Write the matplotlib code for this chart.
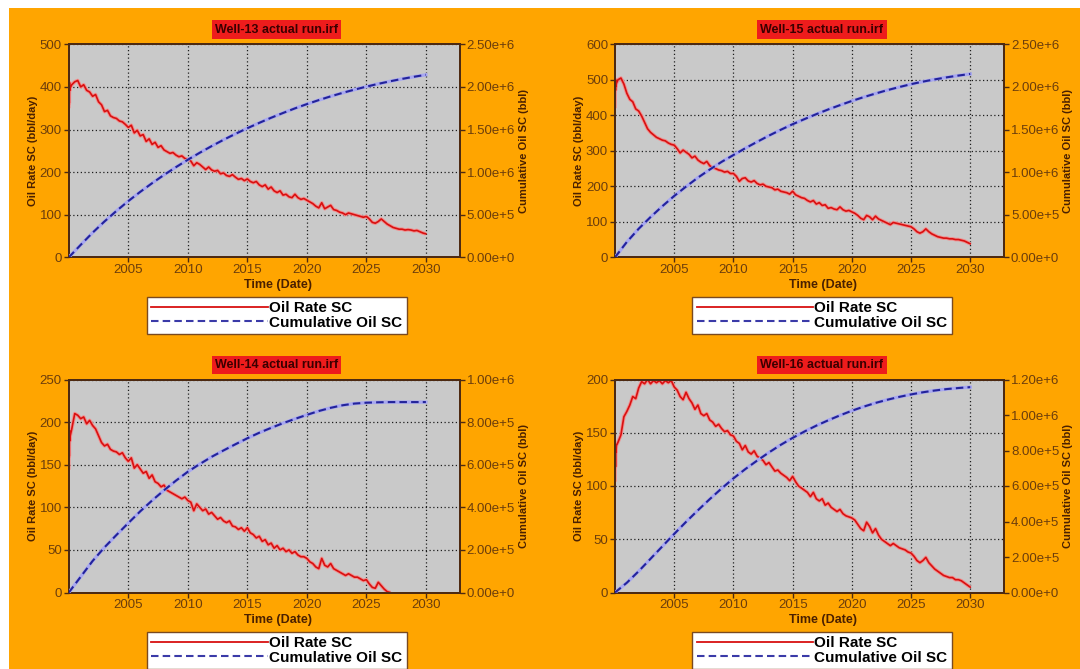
import numpy as np
import matplotlib
matplotlib.use("Agg")
import matplotlib.pyplot as plt
from matplotlib.lines import Line2D
from matplotlib.patches import Rectangle
from matplotlib.ticker import FuncFormatter, MultipleLocator

plt.rcParams['font.family'] = ['Liberation Sans', 'DejaVu Sans']

# ---------------- data ----------------
well_names = ["Well-13 actual run.irf", "Well-15 actual run.irf",
              "Well-14 actual run.irf", "Well-16 actual run.irf"]

cum_years = list(range(2000, 2031))
quarter_start = 2000.25
quarter_step = 0.25

# Well-13
w13_start_years = [2000.0, 2000.02, 2000.04, 2000.06, 2000.08, 2000.12]
w13_start_rate = [350, 405, 362, 410, 392, 398]
w13_rate = [
    405, 412, 415,
    400, 405, 392, 388, 378, 382, 365, 358, 342, 345, 332, 328,
    326, 320, 318, 312, 305, 310, 292, 298, 285, 288, 272, 278,
    265, 270, 258, 262, 252, 248, 244, 246, 240, 236, 238, 232,
    230, 226, 215, 222, 218, 212, 206, 212, 205, 202, 204, 196,
    198, 192, 190, 194, 188, 183, 185, 180, 184, 178, 175, 178,
    170, 166, 170, 160, 165, 156, 152, 156, 146, 148, 142, 140,
    148, 140, 136, 138, 134, 130, 126, 120, 116, 128, 114, 118,
    122, 112, 110, 106, 104, 100, 104, 102, 100, 98, 96, 94,
    96, 90, 82, 80, 84, 90, 84, 78, 74, 70, 68, 66,
    66, 64, 65, 64, 62, 63, 60, 57, 55]
w13_cum = [0.000, 0.146, 0.289, 0.421, 0.544, 0.660, 0.768, 0.870, 0.967, 1.058,
           1.145, 1.227, 1.305, 1.379, 1.449, 1.515, 1.578, 1.638, 1.694, 1.748,
           1.798, 1.845, 1.889, 1.930, 1.968, 2.003, 2.036, 2.066, 2.094, 2.119, 2.142]

# Well-15
w15_start_years = [2000.0, 2000.02, 2000.04, 2000.06, 2000.08, 2000.12]
w15_start_rate = [420, 495, 470, 500, 482, 490]
w15_rate = [
    500, 505, 488,
    462, 445, 438, 418, 412, 398, 380, 362, 352, 345, 338, 334,
    330, 328, 322, 318, 316, 306, 294, 302, 296, 290, 280, 285,
    274, 268, 264, 270, 258, 252, 250, 246, 244, 240, 242, 236,
    236, 228, 214, 222, 224, 215, 212, 216, 208, 204, 206, 200,
    198, 196, 190, 192, 186, 184, 182, 178, 186, 176, 172, 168,
    166, 160, 156, 160, 150, 154, 146, 148, 138, 140, 136, 134,
    142, 134, 130, 132, 128, 124, 118, 110, 106, 118, 114, 106,
    116, 108, 104, 100, 96, 92, 98, 96, 94, 92, 90, 88,
    86, 80, 72, 68, 72, 80, 72, 66, 62, 58, 56, 54,
    54, 52, 52, 50, 50, 48, 46, 42, 38]
w15_cum = [0.000, 0.180, 0.335, 0.472, 0.600, 0.720, 0.830, 0.935, 1.030, 1.120,
           1.200, 1.280, 1.355, 1.428, 1.497, 1.562, 1.622, 1.680, 1.735, 1.786,
           1.835, 1.880, 1.922, 1.962, 1.998, 2.032, 2.062, 2.088, 2.112, 2.133, 2.152]

# Well-14
w14_start_years = [2000.0, 2000.02, 2000.04, 2000.06, 2000.08, 2000.12]
w14_start_rate = [144, 188, 160, 190, 178, 184]
w14_rate = [
    192, 210, 208,
    204, 206, 198, 202, 196, 192, 184, 176, 172, 174, 168, 166,
    165, 162, 164, 158, 154, 158, 146, 150, 145, 140, 142, 134,
    138, 130, 128, 124, 126, 120, 118, 116, 114, 112, 110, 112,
    108, 106, 96, 104, 100, 96, 98, 92, 94, 90, 86, 88,
    84, 82, 84, 78, 77, 74, 76, 72, 76, 70, 68, 64,
    66, 60, 62, 56, 58, 52, 55, 50, 52, 48, 50, 46,
    48, 44, 42, 42, 40, 36, 34, 30, 28, 40, 32, 30,
    34, 28, 26, 24, 22, 20, 22, 20, 18, 18, 16, 14,
    15, 10, 6, 5, 12, 8, 4, 1, 0]
w14_cum = [0.000, 0.074, 0.148, 0.212, 0.270, 0.326, 0.381, 0.432, 0.480, 0.525,
           0.567, 0.603, 0.637, 0.667, 0.696, 0.724, 0.750, 0.773, 0.795, 0.815,
           0.834, 0.852, 0.867, 0.879, 0.887, 0.891, 0.893, 0.894, 0.894, 0.894, 0.894]

# Well-16
w16_start_years = [2000.0, 2000.02, 2000.04, 2000.06, 2000.08, 2000.12]
w16_start_rate = [104, 136, 118, 139, 132, 138]
w16_rate = [
    141, 148, 165,
    170, 176, 184, 182, 192, 198, 196, 200, 196, 199, 197, 199,
    196, 199, 197, 199, 193, 190, 184, 181, 188, 182, 178, 172,
    176, 168, 166, 168, 162, 160, 156, 158, 154, 151, 152, 148,
    147, 142, 140, 134, 138, 132, 130, 133, 128, 126, 124, 120,
    122, 118, 114, 115, 112, 110, 108, 105, 109, 104, 100, 98,
    96, 94, 90, 94, 88, 86, 88, 82, 84, 80, 78, 76,
    78, 74, 72, 71, 70, 68, 64, 60, 58, 66, 62, 56,
    60, 54, 50, 48, 46, 44, 46, 44, 42, 41, 40, 38,
    37, 34, 30, 28, 30, 33, 28, 25, 22, 20, 18, 16,
    15, 14, 14, 12, 12, 11, 9, 7, 5]
w16_cum = [0.000, 0.055, 0.120, 0.190, 0.260, 0.330, 0.398, 0.463, 0.526, 0.586,
           0.643, 0.695, 0.743, 0.789, 0.832, 0.871, 0.907, 0.940, 0.970, 0.998,
           1.024, 1.047, 1.068, 1.086, 1.102, 1.116, 1.128, 1.138, 1.146, 1.152, 1.157]

rate_ylims = [(0, 500, 100), (0, 600, 100), (0, 250, 50), (0, 200, 50)]
cum_ylims = [(0, 2.5e6, 0.5e6), (0, 2.5e6, 0.5e6), (0, 1.0e6, 2e5), (0, 1.2e6, 2e5)]
x_ticks = [2005, 2010, 2015, 2020, 2025, 2030]

wells = [
    (w13_start_years, w13_start_rate, w13_rate, w13_cum),
    (w15_start_years, w15_start_rate, w15_rate, w15_cum),
    (w14_start_years, w14_start_rate, w14_rate, w14_cum),
    (w16_start_years, w16_start_rate, w16_rate, w16_cum),
]

# ---------------- style ----------------
W, H = 1080, 669
ORANGE = '#FFA500'
GREY = '#c9c9c9'
SPINE = '#4d2a12'
TICKC = '#6b3d0c'
LABC = '#4a2000'
RED = '#d81010'
BLUE = '#23239a'

fig = plt.figure(figsize=(W / 100, H / 100), dpi=100)
fig.patch.set_facecolor('white')
fig.patches.append(Rectangle((9 / W, 0), 1 - 9 / W, 1 - 8 / H, transform=fig.transFigure,
                             facecolor=ORANGE, edgecolor='none', zorder=-10))

# axes boxes in pixels: (left, top, right, bottom)
boxes = [(68.8, 44.3, 459.8, 257.3), (615.0, 44.3, 1004.0, 257.3),
         (68.8, 379.5, 459.8, 592.5), (615.0, 379.5, 1004.0, 592.5)]


def sci_fmt(v, pos):
    m, e = f"{v:.2e}".split('e')
    ei = int(e)
    return f"{m}e{'+' if ei >= 0 else '-'}{abs(ei)}"


for i, (name, box, well, rl, cl) in enumerate(zip(well_names, boxes, wells, rate_ylims, cum_ylims)):
    l, t, r, b = box
    ax = fig.add_axes([l / W, (H - b) / H, (r - l) / W, (b - t) / H])
    ax.set_facecolor(GREY)
    ax2 = ax.twinx()

    sy, sr, rate, cum = well
    q_years = quarter_start + quarter_step * np.arange(len(rate))
    years = np.concatenate([np.array(sy), q_years])
    rates = np.concatenate([np.array(sr, float), np.array(rate, float)])

    ax.plot(years, rates, color='#f09090', lw=2.6, zorder=3, solid_capstyle='butt')
    ax.plot(years, rates, color=RED, lw=1.2, zorder=4)

    cum_v = np.array(cum) * 1e6
    ax2.plot(cum_years, cum_v, color='#a8a8f0', lw=2.4, zorder=3)
    ax2.plot(cum_years, cum_v, color=BLUE, lw=1.5, dashes=(3.6, 2.0), zorder=4)

    ax.set_xlim(2000, 2032.85)
    ax.set_ylim(rl[0], rl[1])
    ax.yaxis.set_major_locator(MultipleLocator(rl[2]))
    ax2.set_ylim(cl[0], cl[1])
    ax2.yaxis.set_major_locator(MultipleLocator(cl[2]))
    ax2.yaxis.set_major_formatter(FuncFormatter(sci_fmt))
    ax.set_xticks(x_ticks)

    ax.grid(True, color='black', linestyle=(0, (1, 2)), linewidth=0.9, alpha=0.85)
    ax.set_axisbelow(True)

    for a in (ax, ax2):
        for s in a.spines.values():
            s.set_color(SPINE)
            s.set_linewidth(1.4)
        a.tick_params(colors=SPINE, labelcolor=TICKC, labelsize=9.5, length=3.5, width=1,
                      direction='out', pad=1.5)

    ax.set_ylabel('Oil Rate SC (bbl/day)', fontsize=8, fontweight='bold', color=LABC)
    ax.yaxis.set_label_coords(-30.5 / (r - l), 0.5)
    ax2.set_ylabel('Cumulative Oil SC (bbl)', fontsize=8, fontweight='bold', color=LABC)
    ax2.yaxis.set_label_coords(1 + 59 / (r - l), 0.5)
    ax.set_xlabel('Time (Date)', fontsize=9, fontweight='bold', color=LABC)
    ax.xaxis.set_label_coords(0.535, -22 / (b - t))

    ax.text(0.532, 1 + 14.8 / (b - t), name, transform=ax.transAxes, ha='center', va='center',
            fontsize=9, fontweight='bold', color='#3a0000',
            bbox=dict(boxstyle='square,pad=0.25', facecolor='#ee1c1c', edgecolor='none'))

    handles = [Line2D([], [], color=RED, lw=1.3),
               Line2D([], [], color='#3a3aa8', lw=1.5, dashes=(3.6, 2.0))]
    leg = ax2.legend(handles, ['Oil Rate SC', 'Cumulative Oil SC'], loc='upper center',
                     bbox_to_anchor=(0.532, -39.4 / (b - t)), ncol=1, frameon=True,
                     fancybox=False, shadow=False, handlelength=7.6, handletextpad=0.1,
                     borderpad=0.3, labelspacing=0.02, borderaxespad=0,
                     prop={'family': ['Liberation Sans', 'DejaVu Sans'], 'weight': 'bold', 'size': 11})
    leg.get_frame().set_edgecolor('#7a4a20')
    leg.get_frame().set_linewidth(1.0)
    leg.get_frame().set_facecolor('white')
    leg.get_frame().set_alpha(1)

fig.savefig('out.png', dpi=100, facecolor=fig.get_facecolor())
